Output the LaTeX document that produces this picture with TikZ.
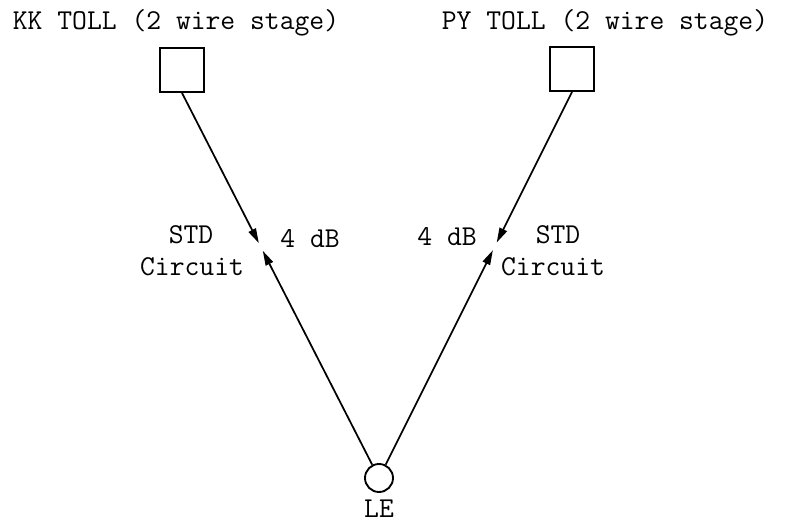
\documentclass[tikz,border=0pt]{standalone}
\usetikzlibrary{arrows.meta,calc}
\begin{document}
\begin{tikzpicture}[x=0.75pt,y=-0.75pt,
  every node/.style={font=\ttfamily\fontsize{21.6}{24}\selectfont},
  toll/.style={draw,line width=1.4pt,minimum size=33pt,inner sep=0pt},
  exch/.style={draw,circle,line width=1.4pt,minimum size=21pt,inner sep=0pt},
  txt/.style={anchor=base,inner sep=0pt},
  wire/.style={line width=1.3pt,-{Triangle[length=11pt,width=6pt]}}]
\useasboundingbox (0,0) rectangle (785,524);

\node[toll] (kk) at (182,70) {};
\node[toll] (py) at (572,69) {};
\node[exch] (le) at (379,478) {};

\node[txt] (kktext) at (176,30) {KK TOLL (2 wire stage)};
\node[txt] (pytext) at (605,30) {PY TOLL (2 wire stage)};
\node[txt] (letext) at (379,517) {LE};

\node[txt] (kkstd) at (191,243) {STD};
\node[txt] (kkcirc) at (192,275) {Circuit};
\node[txt] (kkdb) at (310,247) {4 dB};
\node[txt] (pydb) at (447,245) {4 dB};
\node[txt] (pystd) at (558,243) {STD};
\node[txt] (pycirc) at (553,275) {Circuit};

% arrows meet near the middle of each circuit
\coordinate (kkdown) at ($(kk.south)!0.39!(le.center)$);
\coordinate (kkup) at ($(kk.south)!0.41!(le.center)$);
\coordinate (pydown) at ($(py.south)!0.39!(le.center)$);
\coordinate (pyup) at ($(py.south)!0.41!(le.center)$);

\draw[wire] (kk.south) -- (kkdown);
\draw[wire] (le) -- (kkup);
\draw[wire] (py.south) -- (pydown);
\draw[wire] (le) -- (pyup);
\end{tikzpicture}
\end{document}
